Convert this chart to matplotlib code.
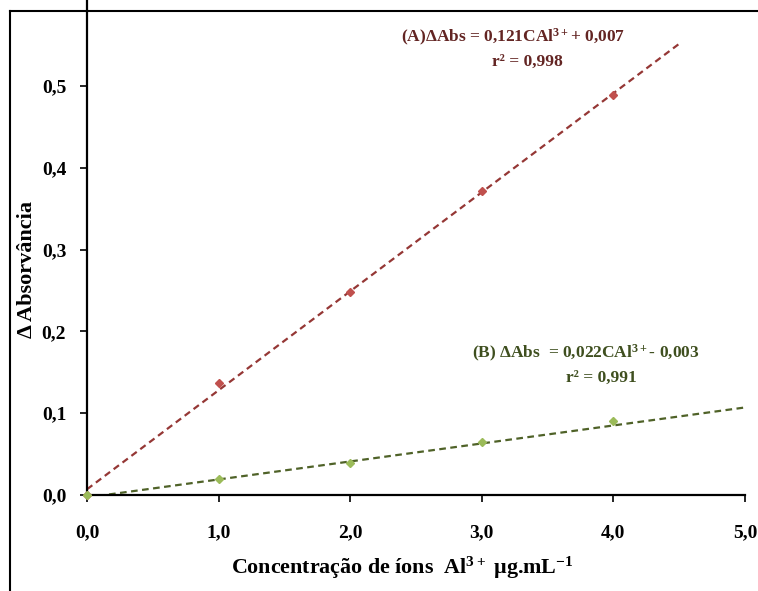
import matplotlib
matplotlib.use("Agg")
import matplotlib.pyplot as plt
from matplotlib.lines import Line2D
import numpy as np

plt.rcParams['font.family'] = ['Liberation Serif', 'DejaVu Serif']
plt.rcParams['font.weight'] = 'bold'
plt.rcParams['mathtext.fontset'] = 'custom'
plt.rcParams['mathtext.rm'] = 'Liberation Serif:bold'
plt.rcParams['mathtext.it'] = 'Liberation Serif:bold'
plt.rcParams['mathtext.bf'] = 'Liberation Serif:bold'

# Data
conc = [0, 1, 2, 3, 4]
abs_A = [0.0, 0.137, 0.248, 0.372, 0.489]
abs_B = [0.0, 0.019, 0.039, 0.065, 0.090]
fit_A = (0.121, 0.007)   # slope, intercept
fit_B = (0.022, -0.003)
fit_A_range = (0.0, 4.5)
fit_B_range = (0.0, 5.0)
xticks = [0, 1, 2, 3, 4, 5]
yticks = [0.0, 0.1, 0.2, 0.3, 0.4, 0.5]

W, H = 758, 591
fig = plt.figure(figsize=(W / 100, H / 100), dpi=100)
ax = fig.add_axes([87 / W, 1 - 495 / H, (745 - 87) / W, 495 / H])

line_red = '#953735'
mk_red = '#C0504D'
line_green = '#4F6228'
mk_green = '#9BBB59'

xa = np.linspace(*fit_A_range, 50)
ax.plot(xa, fit_A[0] * xa + fit_A[1], color=line_red, lw=1.6, dashes=(3, 2))
xb = np.linspace(*fit_B_range, 50)
ax.plot(xb, fit_B[0] * xb + fit_B[1], color=line_green, lw=1.6, dashes=(3, 2))

ax.plot(conc, abs_A, 'D', color=mk_red, ms=4, zorder=3, clip_on=False)
ax.plot(conc, abs_B, 'D', color=mk_green, ms=4, zorder=3, clip_on=False)

ax.set_xlim(0, 5)
ax.set_ylim(0, 0.605)
ax.set_xticks(xticks)
ax.set_yticks(yticks)
ax.set_xticklabels([f"{v:.1f}".replace('.', ',') for v in xticks])
ax.set_yticklabels([f"{v:.1f}".replace('.', ',') for v in yticks])
for s in ['top', 'right']:
    ax.spines[s].set_visible(False)
for s in ['left', 'bottom']:
    ax.spines[s].set_linewidth(1.6)
    ax.spines[s].set_color('black')
ax.tick_params(axis='x', direction='out', length=5, width=1.2, pad=16, labelsize=14)
ax.tick_params(axis='y', direction='out', length=5, width=1.2, pad=10, labelsize=14)

# Annotations
fig.text(513 / W, 1 - 37 / H, "(A)ΔAbs = 0,121CAl$^{3+}$+ 0,007", color='#632523',
         ha='center', va='center', fontsize=12.5, fontweight='bold')
fig.text(527 / W, 1 - 62 / H, "r² = 0,998", color='#632523',
         ha='center', va='center', fontsize=12.5, fontweight='bold')
fig.text(586 / W, 1 - 353 / H, "(B) ΔAbs  = 0,022CAl$^{3+}$- 0,003", color='#3F4F1F',
         ha='center', va='center', fontsize=12.5, fontweight='bold')
fig.text(601 / W, 1 - 378 / H, "r² = 0,991", color='#3F4F1F',
         ha='center', va='center', fontsize=12.5, fontweight='bold')

fig.text(402 / W, 1 - 568 / H, "Concentração de íons  Al$^{3+}$ µg.mL$^{-1}$",
         ha='center', va='center', fontsize=15.8, fontweight='bold')
fig.text(27 / W, 1 - 270 / H, "Δ Absorvância", rotation=90,
         ha='center', va='center', fontsize=16, fontweight='bold')

# Outer frame (partially visible)
fig.add_artist(Line2D([9.5 / W, 9.5 / W], [0, 1 - 11 / H], color='black', lw=1.5,
                      transform=fig.transFigure))
fig.add_artist(Line2D([9.5 / W, 1], [1 - 11 / H, 1 - 11 / H], color='black', lw=1.5,
                      transform=fig.transFigure))

fig.savefig('out.png', dpi=100, facecolor='white')
